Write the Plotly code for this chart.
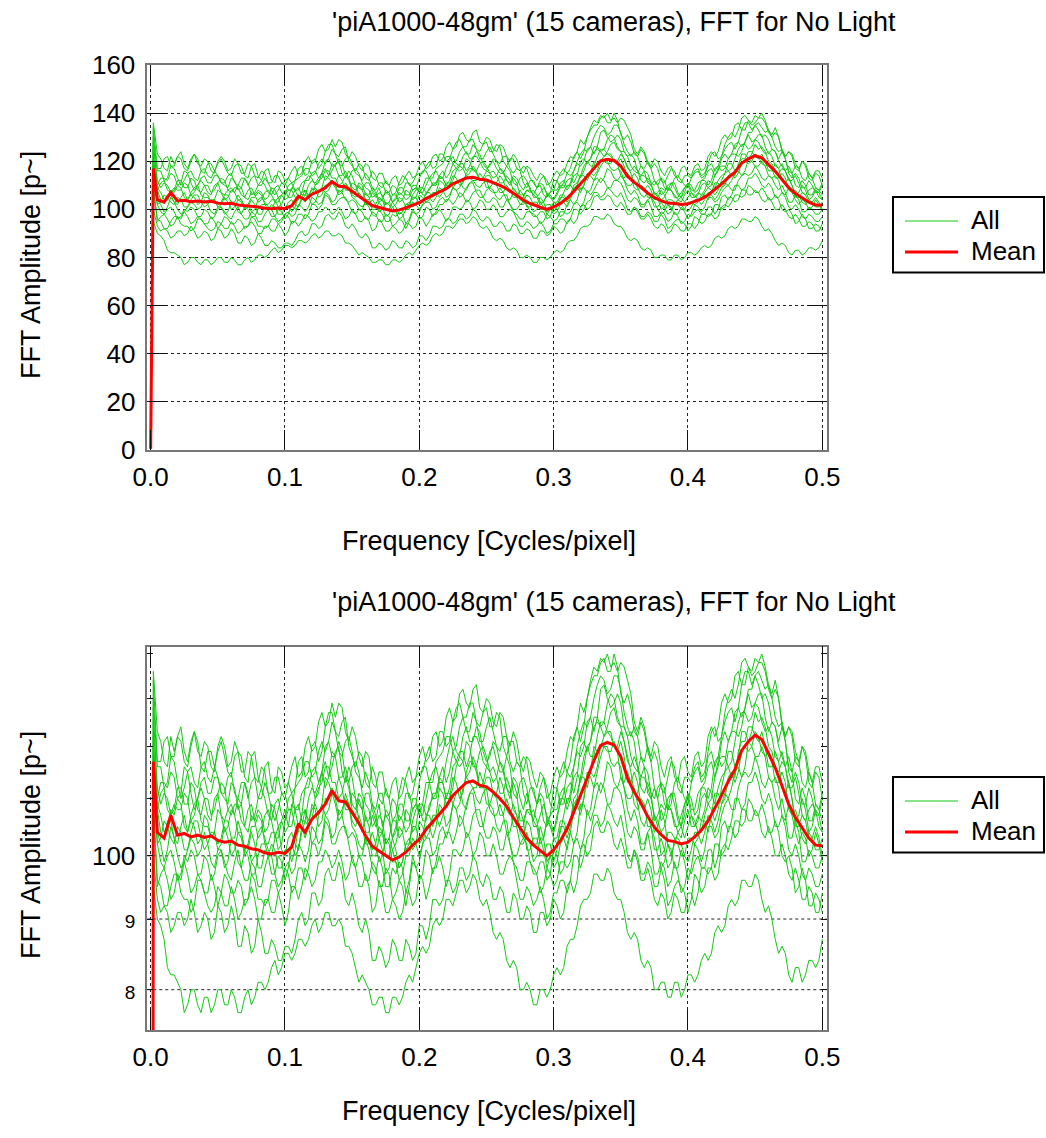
import plotly.graph_objects as go

# ---------------- data ----------------
# main sampling grid (cycles/pixel)
freq = [0.0, 0.002, 0.005, 0.010, 0.015, 0.020, 0.025, 0.030, 0.035, 0.040, 0.045, 0.050,
        0.055, 0.060, 0.065, 0.070, 0.075, 0.080, 0.085, 0.090, 0.095, 0.100,
        0.105, 0.110, 0.115, 0.120, 0.125, 0.130, 0.135, 0.140, 0.145, 0.150,
        0.155, 0.160, 0.165, 0.170, 0.175, 0.180, 0.185, 0.190, 0.195, 0.200,
        0.205, 0.210, 0.215, 0.220, 0.225, 0.230, 0.235, 0.240, 0.245, 0.250,
        0.255, 0.260, 0.265, 0.270, 0.275, 0.280, 0.285, 0.290, 0.295, 0.300,
        0.305, 0.310, 0.315, 0.320, 0.325, 0.330, 0.335, 0.340, 0.345, 0.350,
        0.355, 0.360, 0.365, 0.370, 0.375, 0.380, 0.385, 0.390, 0.395, 0.400,
        0.405, 0.410, 0.415, 0.420, 0.425, 0.430, 0.435, 0.440, 0.445, 0.450,
        0.455, 0.460, 0.465, 0.470, 0.475, 0.480, 0.485, 0.490, 0.495, 0.500]

# per-camera amplitudes on the main grid
cam01 = [0.5, 136, 123,117,122,122,119,121,119,121,116,120, 120,117,119,114,118,114,116,112,116,112,
         116,114,120,119,125,124,129,129,123,124, 118,119,113,115,111,113,110,114,113,118,
         117,122,120,126,125,131,129,132,128,130, 125,127,122,123,117,118,114,115,110,114,
         114,119,121,129,130,137,139,140,138,138, 134,125,126,120,121,116,117,114,117,115,
         118,116,122,122,129,129,135,133,137,136, 138,132,132,125,124,119,120,115,116,113]
cam02 = [0.5, 134, 117,121,118,122,117,120,121,115,119,119, 118,114,119,115,118,113,115,111,114,110,
         111,117,114,120,117,124,127,122,126,118, 119,113,116,110,112,106,111,113,111,115,
         118,117,123,120,125,129,126,129,124,128, 124,126,118,121,116,117,111,112,112,108,
         115,115,122,121,130,135,138,136,140,131, 131,123,125,119,119,112,114,116,111,114,
         116,114,119,124,122,130,130,138,137,139, 140,133,134,124,124,117,120,113,115,110]
cam03 = [0.5, 130, 116,112,118,113,112,116,112,117,113,114, 111,115,110,113,113,110,113,108,108,111,
         108,113,117,114,119,119,125,119,121,119, 114,115,109,111,107,110,106,111,108,113,
         116,113,118,122,119,124,123,127,121,124, 123,119,122,115,116,109,112,111,106,112,
         109,115,116,123,124,130,135,131,135,132, 124,124,118,120,112,113,108,113,112,109,
         115,113,118,116,122,127,125,133,136,135, 134,133,126,125,116,118,113,115,109,111]
cam04 = [0.5, 128, 110,113,115,110,116,111,110,114,111,114, 110,113,108,113,106,110,110,106,110,106,
         111,108,112,115,113,120,118,121,114,116, 115,109,105,109,107,103,109,106,110,107,
         110,115,113,117,122,118,124,121,123,117, 121,117,118,111,113,112,106,110,105,108,
         111,109,116,118,125,123,132,130,129,129, 122,121,114,115,110,113,108,111,105,111,
         108,112,116,114,121,121,127,126,132,135, 130,129,124,124,115,115,109,112,107,110]
cam05 = [0.5, 125, 112,111,107,112,109,113,108,110,107,111, 112,107,109,105,109,108,104,109,105,104,
         109,105,112,113,111,117,116,120,113,114, 109,111,108,103,108,103,107,104,108,107,
         113,110,114,113,119,119,116,122,120,116, 120,115,112,114,110,111,105,107,107,104,
         109,112,111,120,119,126,124,129,130,124, 122,116,118,111,112,106,110,109,105,111,
         107,112,110,117,116,121,123,124,131,129, 131,123,124,118,118,110,112,106,109,106]
cam06 = [0.5, 122, 108,112,107,108,111,106,110,110,106,111, 106,109,110,105,107,103,107,106,103,108,
         105,109,106,112,113,112,119,114,116,109, 111,106,109,104,102,106,103,108,104,109,
         107,111,114,110,116,116,121,116,119,118, 113,117,112,113,106,108,108,103,106,104,
         110,108,114,113,120,124,124,124,128,124, 117,118,112,113,106,109,109,105,107,110,
         105,110,109,114,118,116,121,127,125,129, 125,124,118,119,112,114,107,108,108,104]
cam07 = [0.5, 120, 109,104,108,110,105,107,110,105,103,108, 104,108,104,101,105,107,102,104,101,106,
         108,104,108,106,112,116,113,110,114,108, 110,104,107,107,102,101,105,101,106,109,
         106,110,113,110,112,118,114,118,112,116, 116,111,114,108,105,108,106,102,106,103,
         104,110,108,114,120,118,125,123,120,123, 118,111,114,112,107,104,108,106,103,108,
         105,106,112,109,114,119,116,123,121,127, 126,120,116,117,113,106,110,104,108,104]
cam08 = [0.5, 118, 108,103,106,102,107,106,102,107,103,102, 106,103,106,101,99,104,103,100,105,100,
         104,101,108,108,107,114,111,114,108,111, 106,107,101,105,100,103,98,102,105,102,
         107,105,112,109,114,110,115,117,112,114, 111,114,108,109,104,106,102,105,99,103,
         106,104,110,114,112,120,120,123,120,121, 113,115,109,110,104,108,102,102,105,105,
         106,104,109,106,112,116,114,121,124,122, 123,116,119,112,113,105,107,103,105,100]
cam09 = [0.5, 116, 102,106,103,105,101,104,106,101,104,101, 105,100,104,100,104,98,101,102,98,101,
         99,105,103,109,105,110,112,107,110,106, 107,102,104,99,103,99,98,102,101,106,
         103,107,105,111,109,109,114,112,115,109, 111,107,110,105,108,101,103,100,102,99,
         105,103,109,108,114,114,120,119,121,114, 115,109,110,105,107,100,104,103,100,103,
         102,106,104,111,109,114,113,119,119,123, 119,119,113,115,108,108,103,104,101,103]
cam10 = [0.5, 114, 104,99,105,100,99,103,100,104,99,101, 98,103,99,101,97,100,102,97,100,96,
         102,101,106,102,107,107,111,106,111,105, 102,103,100,103,97,101,96,100,103,100,
         105,103,109,105,109,112,108,112,109,112, 107,109,104,107,102,104,99,103,98,98,
         102,101,108,107,115,112,118,120,116,116, 110,112,106,107,101,103,98,103,102,99,
         104,102,107,104,109,110,115,114,121,118, 120,114,114,107,109,104,104,100,104,99]
cam11 = [0.5, 112, 102,98,101,96,100,101,97,100,96,100, 99,96,101,96,99,95,98,100,95,98,
         97,102,99,105,102,107,103,108,104,104, 100,103,98,100,95,98,99,94,100,99,
         103,100,104,103,109,105,109,111,105,108, 108,104,106,100,102,102,97,99,96,101,
         97,102,102,109,107,112,111,117,113,114, 108,108,102,104,103,98,102,98,101,96,
         102,99,105,103,107,110,108,114,114,118, 113,114,110,110,103,106,99,101,98,100]
cam12 = [0.5, 110, 95,98,93,97,99,94,97,94,97,92, 97,94,96,92,97,93,92,96,94,98,
         94,98,96,102,100,106,102,104,105,99, 100,96,99,95,98,93,96,92,99,96,
         101,97,102,104,102,107,103,107,108,103, 105,101,104,99,96,99,98,94,98,95,
         99,98,102,101,108,108,113,109,112,111, 104,105,101,104,97,99,95,99,94,98,
         99,98,101,98,105,104,110,108,113,115, 110,111,105,107,101,102,97,98,95,97]
cam13 = [0.5, 108, 96,92,95,97,93,91,96,94,91,95, 92,95,90,93,95,90,93,91,94,89,
         95,93,98,95,99,101,98,101,96,100, 95,97,91,96,91,93,90,94,92,97,
         93,98,100,95,101,100,104,100,104,100, 102,97,99,99,93,95,92,95,90,94,
         96,94,100,98,103,107,105,109,106,107, 100,101,97,99,95,98,92,95,95,91,
         97,94,98,96,101,101,106,105,110,107, 109,104,106,100,100,94,98,92,94,91]
cam14 = [0.5, 100, 93,92,88,91,89,93,88,91,87,92, 88,92,86,89,85,90,85,87,84,86,
         85,90,89,94,92,97,96,99,93,94, 89,90,84,86,83,87,84,87,84,89,
         87,93,92,96,94,98,96,100,96,97, 93,95,91,94,90,92,88,91,89,93,
         90,95,94,101,100,105,104,106,102,103, 98,101,96,98,93,94,90,94,91,94,
         92,98,97,102,100,105,103,108,106,108, 104,105,100,102,97,98,93,95,91,94]
cam15 = [0.5, 95, 90,87,82,81,77,80,78,79,77,80, 78,80,77,79,78,81,80,83,82,85,
         84,87,86,89,88,91,89,90,86,85, 81,81,78,79,77,79,78,81,81,85,
         85,89,89,93,92,96,94,97,93,93, 88,88,84,84,80,81,78,80,79,82,
         82,86,87,92,93,97,96,98,94,93, 88,88,84,84,80,81,79,81,79,82,
         81,84,84,88,88,92,92,96,95,97, 93,92,87,86,82,83,81,84,83,87]

# per-camera amplitudes read half-way between main grid points (0.0075 ... 0.4975)
mid01 = [121,116,119,124,117,123,118,120,115,122, 116,121,118,113,119,112,117,111,115,113,
         118,115,122,120,127,125,126,128,121,122, 116,118,112,115,110,114,111,116,114,120,
         118,123,121,128,126,132,128,133,127,129, 124,126,120,121,115,117,112,114,111,116,
         115,122,124,127,134,136,138,137,136,137, 131,123,124,118,120,114,118,113,118,114,
         119,117,124,124,131,130,136,133,135,138, 136,130,130,122,123,117,119,113,116]
mid02 = [117,122,118,121,116,123,116,119,116,121, 115,118,115,119,114,116,111,114,111,113,
         112,118,115,121,119,127,123,125,120,116, 118,112,114,109,110,107,114,110,114,115,
         120,118,123,121,128,126,129,125,127,124, 127,120,121,117,118,113,109,114,109,112,
         117,117,124,124,133,135,139,136,137,129, 128,122,123,117,117,111,117,112,114,113,
         117,115,123,121,127,132,133,139,136,138, 137,131,130,122,122,116,118,112,114]
mid03 = [116,113,117,110,115,113,116,114,116,111, 114,111,113,110,114,110,111,106,111,108,
         112,114,117,115,121,121,123,118,122,115, 112,113,108,111,107,109,107,111,109,116,
         113,117,119,122,120,126,123,125,121,126, 120,122,117,117,111,112,109,110,107,112,
         111,114,120,125,126,133,134,132,135,127, 122,122,117,117,110,112,109,114,110,113,
         116,114,119,118,125,128,128,136,133,136, 132,130,124,121,115,117,112,113,108]
mid04 = [113,112,114,111,115,108,113,111,114,111, 109,112,109,111,107,112,107,109,107,110,
         108,111,112,116,115,121,118,119,113,117, 111,108,106,105,106,105,109,106,110,107,
         113,116,113,120,119,122,121,124,119,118, 120,115,116,110,114,108,109,106,107,108,
         112,111,119,120,126,126,133,128,131,124, 123,116,116,111,112,109,111,107,109,108,
         111,113,117,116,123,123,128,128,132,133, 131,125,121,121,113,113,109,110,107]
mid05 = [109,110,108,112,109,112,107,110,108,113, 108,109,106,108,106,107,105,108,106,105,
         108,107,114,110,115,114,119,115,116,110, 108,111,106,104,107,104,106,105,109,109,
         113,111,116,115,117,119,118,122,117,119, 117,115,111,113,108,109,105,109,105,107,
         109,113,114,121,121,126,125,131,126,124, 118,115,116,110,110,107,111,106,107,110,
         108,112,112,118,117,123,122,128,128,131, 126,125,120,116,115,109,110,106,108]
mid06 = [111,108,109,108,110,107,112,107,110,107, 108,107,109,104,106,104,108,103,106,105,
         108,106,110,111,115,114,118,114,113,108, 110,106,107,104,103,106,104,107,105,109,
         108,111,113,112,117,117,120,116,120,115, 114,116,110,111,106,107,106,103,106,106,
         110,110,115,116,121,125,122,127,125,121, 116,116,111,111,107,108,108,105,109,107,
         106,111,110,117,118,117,125,127,126,128, 123,122,117,116,112,111,106,109,105]
mid07 = [107,105,107,109,104,109,106,105,104,107, 105,107,104,102,105,106,102,104,102,108,
         105,107,105,110,113,116,113,111,112,107, 108,104,105,106,103,102,104,102,108,106,
         109,110,113,110,116,117,115,116,113,115, 114,111,112,107,105,108,105,103,105,102,
         107,110,110,118,118,122,125,122,120,121, 115,111,114,110,106,105,108,104,106,105,
         107,108,111,112,115,119,118,123,123,125, 124,119,115,116,110,107,108,105,107]
mid08 = [104,106,103,105,104,105,103,106,104,103, 106,103,104,102,100,105,101,103,101,103,
         102,105,106,109,109,113,111,112,108,110, 104,105,102,104,100,101,99,102,105,103,
         107,107,111,110,113,111,117,115,112,114, 111,112,107,107,103,105,102,103,100,103,
         106,106,111,114,115,119,122,123,119,118, 113,113,108,108,105,106,100,104,103,107,
         104,107,108,108,115,114,119,121,124,121, 120,116,117,111,110,105,106,103,103]
mid09 = [103,105,102,104,101,106,103,102,104,102, 103,101,103,101,102,98,100,101,98,101,
         101,105,105,108,106,110,110,108,109,105, 105,102,102,100,102,99,99,103,102,105,
         104,107,107,111,108,112,113,112,113,109, 110,107,108,105,106,101,103,100,102,101,
         105,105,110,110,115,116,120,119,119,113, 113,108,109,105,105,101,104,102,100,103,
         103,106,107,111,110,115,115,120,120,122, 118,117,113,113,107,106,102,103,101]
mid10 = [102,101,103,98,101,102,101,102,98,101, 99,102,98,100,97,102,100,97,99,98,
         100,104,105,103,109,108,109,107,109,104, 101,103,100,101,98,99,97,100,102,102,
         105,105,108,106,111,109,111,110,111,108, 107,107,104,105,102,102,100,101,100,99,
         103,104,109,110,114,115,120,117,117,112, 110,109,105,105,101,101,99,103,100,101,
         104,104,106,106,111,112,116,116,120,118, 118,113,112,106,107,102,103,101,102]
mid11 = [99,100,99,97,99,100,97,99,97,101, 97,99,98,96,98,95,100,97,96,99,
         98,101,101,104,103,106,104,107,103,103, 100,101,97,98,95,97,98,96,98,102,
         103,101,105,105,108,106,111,107,105,109, 105,106,102,100,103,99,97,99,97,100,
         98,104,104,109,108,113,113,116,112,112, 106,106,102,105,100,99,101,98,99,98,
         101,101,105,104,109,108,112,115,115,116, 112,113,108,107,103,104,99,100,98]
mid12 = [97,96,94,96,97,95,96,94,95,94, 96,94,95,93,96,93,93,96,95,97,
         95,98,98,102,102,105,102,105,102,98, 99,96,98,95,97,94,95,95,98,97,
         100,99,102,104,104,106,104,108,105,103, 104,101,102,98,96,99,97,95,97,96,
         99,99,103,103,106,111,112,109,112,108, 103,104,101,101,97,98,96,97,95,97,
         100,98,101,100,106,106,110,109,113,113, 109,109,105,105,100,100,96,97,95]
mid13 = [95,92,97,94,93,92,96,92,92,94, 92,93,91,93,93,90,93,91,92,91,
         95,95,97,96,99,100,99,99,97,98, 95,95,92,94,91,92,91,94,93,96,
         95,98,98,97,101,101,103,101,103,100, 100,97,100,96,93,94,93,93,91,94,
         96,96,100,100,104,107,106,108,105,104, 99,100,97,98,95,96,93,96,94,93,
         96,95,98,97,102,103,106,106,109,107, 107,104,104,99,98,95,96,92,93]
mid14 = [91,91,89,91,90,91,89,90,88,91, 89,90,86,88,86,88,85,86,84,86,
         87,91,90,94,93,98,96,97,92,92, 88,88,84,85,84,86,84,86,85,89,
         89,93,93,96,95,98,97,99,95,96, 93,94,91,93,90,91,88,91,90,92,
         91,96,96,102,101,106,104,105,101,101, 98,99,96,96,92,93,91,93,91,94,
         94,98,98,102,101,105,104,108,106,107, 103,103,100,100,96,96,93,94,91]
mid15 = [89,83,82,80,78,80,77,79,78,80, 78,79,77,80,79,81,81,84,83,85,
         85,87,87,90,89,91,89,89,86,83, 82,80,78,79,77,79,79,82,83,86,
         86,90,90,93,94,96,95,96,92,91, 87,87,83,83,80,80,78,80,80,83,
         83,87,89,93,94,97,96,97,93,91, 87,87,83,83,80,81,79,81,80,82,
         82,85,85,89,89,93,93,96,95,96, 91,90,85,85,81,83,82,84,84]

mean_curve = [0.5, 117,
              104, 103, 107, 103.5, 103.8, 103.2, 103.5, 103.1, 103.4, 102.6,
              102.3, 102.5, 101.8, 101.6, 101.2, 101.0, 100.5, 100.3, 100.6, 100.4,
              101.5, 105.5, 104.0, 106.3, 107.5, 109.0, 111.5, 109.6, 109.4, 107.5,
              105.6, 103.4, 101.6, 100.8, 100.0, 99.3, 99.8, 100.6, 101.8, 102.8,
              104.5, 105.8, 107.3, 108.6, 110.6, 111.8, 113.0, 113.3, 112.5, 112.2,
              111.2, 110.0, 108.6, 106.6, 104.8, 103.0, 101.8, 100.9, 100.0, 101.0,
              102.5, 104.6, 107.4, 110.6, 113.8, 117.2, 120.2, 120.8, 120.3, 118.0,
              113.8, 111.2, 109.2, 106.8, 104.9, 103.6, 102.6, 102.4, 102.0, 102.3,
              103.2, 104.4, 106.0, 108.2, 110.6, 113.2, 115.5, 119.2, 121.0, 122.3,
              121.4, 118.6, 115.8, 112.4, 109.0, 106.6, 104.8, 103.0, 101.8, 101.7]

x_tick_vals = [0.0, 0.1, 0.2, 0.3, 0.4, 0.5]
x_tick_text = ["0.0", "0.1", "0.2", "0.3", "0.4", "0.5"]
y_lin_ticks = [0, 20, 40, 60, 80, 100, 120, 140, 160]
y_log_ticks = [80, 90, 100, 110, 120, 130, 140]
y_log_text = ['<span style="font-size:19px">8</span>', '<span style="font-size:19px">9</span>',
              "100", "", "", "", ""]
y_log_grid = [80, 90, 100]
legend_names = ["All", "Mean"]

title_text = "'piA1000-48gm' (15 cameras), FFT for No Light"
x_title = "Frequency [Cycles/pixel]"
y_title = "FFT Amplitude [p~]"

cams = [cam01, cam02, cam03, cam04, cam05, cam06, cam07, cam08,
        cam09, cam10, cam11, cam12, cam13, cam14, cam15]
mids = [mid01, mid02, mid03, mid04, mid05, mid06, mid07, mid08,
        mid09, mid10, mid11, mid12, mid13, mid14, mid15]

# half-way frequencies between consecutive main-grid points from 0.005 on
freq_mid = [round((a + b) / 2, 5) for a, b in zip(freq[2:-1], freq[3:])]


def merged(main, mid):
    """Combine the main-grid and half-way readings of one camera, ordered by frequency."""
    n = min(len(main), len(freq))
    pts = list(zip(freq[:n], main[:n]))
    if len(mid) == len(freq_mid):
        pts += list(zip(freq_mid, mid))
    pts.sort(key=lambda p: p[0])
    return [p[0] for p in pts], [p[1] for p in pts]


# ---------------- figure ----------------
W, H = 1046, 1138
FONT = "Liberation Sans, Arial, sans-serif"
GREEN = "#14c814"
RED = "#ff0000"
TICK_SIZE = 26
TITLE_SIZE = 27

fig = go.Figure()
for row, (xa, ya) in enumerate([("x", "y"), ("x2", "y2")]):
    for c, m in zip(cams, mids):
        xs, ys = merged(c, m)
        fig.add_trace(go.Scatter(x=xs, y=ys, mode="lines", name=legend_names[0],
                                 line=dict(color=GREEN, width=1),
                                 legendgroup="all", showlegend=False,
                                 xaxis=xa, yaxis=ya, hoverinfo="skip"))
    fig.add_trace(go.Scatter(x=freq[:len(mean_curve)], y=mean_curve, mode="lines",
                             name=legend_names[1], line=dict(color=RED, width=3),
                             legendgroup="mean", showlegend=False, xaxis=xa, yaxis=ya))


def px_x(p):
    return p / W


def px_y(p):
    return 1 - p / H


x_dom = [px_x(147.3), px_x(826.7)]
tickfont = dict(size=TICK_SIZE, family=FONT, color="#000")
common_x = dict(domain=x_dom, range=[-0.0025, 0.5033], tickvals=x_tick_vals, ticktext=x_tick_text,
                showgrid=True, gridcolor="#222", griddash="3px,3px", gridwidth=1,
                ticks="inside", ticklen=20, tickwidth=1, tickcolor="#111",
                showline=True, linecolor="#777", linewidth=1.5, mirror="ticks",
                zeroline=False, tickfont=tickfont, ticklabelstandoff=3)

fig.update_layout(
    xaxis=dict(anchor="y", **common_x),
    xaxis2=dict(anchor="y2", **common_x),
    yaxis=dict(anchor="x", domain=[px_y(450), px_y(65)], range=[0, 160],
               tickvals=y_lin_ticks, showgrid=True, gridcolor="#222", griddash="3px,3px",
               gridwidth=1, ticks="inside", ticklen=20, tickwidth=1, tickcolor="#111",
               showline=True, linecolor="#777", linewidth=1.5, mirror="ticks",
               zeroline=False, tickfont=tickfont, ticklabelstandoff=5),
    yaxis2=dict(anchor="x2", type="log", domain=[px_y(1030), px_y(646.7)],
                range=[1.8739, 2.1514], tickvals=y_log_ticks, ticktext=y_log_text,
                showgrid=False, ticks="inside", ticklen=6, tickwidth=1, tickcolor="#111",
                showline=True, linecolor="#777", linewidth=1.5, mirror="ticks",
                zeroline=False, tickfont=tickfont, ticklabelstandoff=5),
    width=W, height=H, autosize=False,
    margin=dict(l=0, r=0, t=0, b=0, autoexpand=False),
    paper_bgcolor="white", plot_bgcolor="white",
    font=dict(family=FONT, size=TICK_SIZE, color="#000"),
    showlegend=False,
)

shapes = []
for v in y_log_grid:
    shapes.append(dict(type="line", xref="x2 domain", x0=0, x1=1, yref="y2", y0=v, y1=v,
                       line=dict(color="#222", width=1, dash="3px,3px"), layer="below"))

ann = []
# one boxed key per panel
for dy in (0, 580):
    shapes.append(dict(type="rect", xref="paper", yref="paper",
                       x0=px_x(893), x1=px_x(1044), y0=px_y(197 + dy), y1=px_y(272.5 + dy),
                       line=dict(color="#000", width=2), fillcolor="white"))
    shapes.append(dict(type="line", xref="paper", yref="paper",
                       x0=px_x(905), x1=px_x(958), y0=px_y(221 + dy), y1=px_y(221 + dy),
                       line=dict(color=GREEN, width=1)))
    shapes.append(dict(type="line", xref="paper", yref="paper",
                       x0=px_x(905), x1=px_x(958), y0=px_y(252 + dy), y1=px_y(252 + dy),
                       line=dict(color=RED, width=3)))
    for name, ty in zip(legend_names, (220 + dy, 251 + dy)):
        ann.append(dict(text=name, x=px_x(969), y=px_y(ty), xref="paper", yref="paper",
                        showarrow=False, xanchor="left", yanchor="middle",
                        font=dict(size=TICK_SIZE, family=FONT, color="#000")))
fig.update_layout(shapes=shapes)

for ty in (22, 602):
    ann.append(dict(text=title_text, x=px_x(614), y=px_y(ty), xref="paper", yref="paper",
                    showarrow=False, xanchor="center", yanchor="middle",
                    font=dict(size=TITLE_SIZE, family=FONT, color="#000")))
for ty in (541, 1111):
    ann.append(dict(text=x_title, x=px_x(489), y=px_y(ty), xref="paper", yref="paper",
                    showarrow=False, xanchor="center", yanchor="middle",
                    font=dict(size=TITLE_SIZE, family=FONT, color="#000")))
for ty in (265, 845):
    ann.append(dict(text=y_title, x=px_x(31), y=px_y(ty), xref="paper", yref="paper",
                    showarrow=False, xanchor="center", yanchor="middle", textangle=-90,
                    font=dict(size=TITLE_SIZE, family=FONT, color="#000")))
fig.update_layout(annotations=ann)

fig.write_html("out.html")
